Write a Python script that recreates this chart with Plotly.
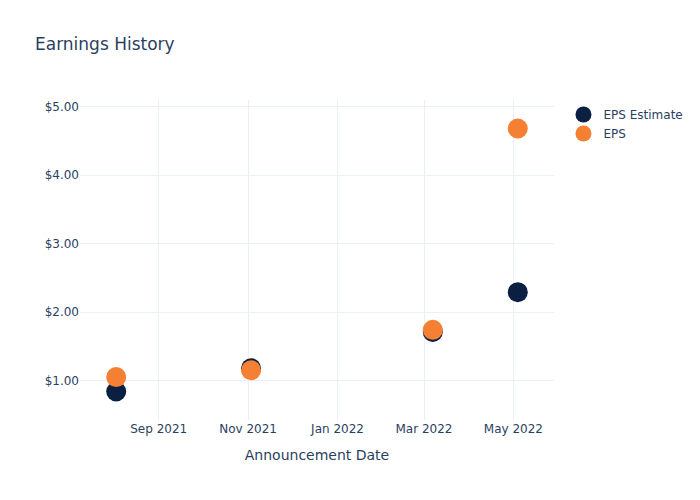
import plotly.graph_objects as go

dates = ["2021-08-03", "2021-11-03", "2022-03-07", "2022-05-04"]
eps_estimate = [0.84, 1.18, 1.71, 2.29]
eps_actual = [1.05, 1.15, 1.74, 4.68]

fig = go.Figure()
fig.add_trace(go.Scatter(x=dates, y=eps_estimate, mode="markers", name="EPS Estimate",
                         marker=dict(color="#0B1F42", size=20)))
fig.add_trace(go.Scatter(x=dates, y=eps_actual, mode="markers", name="EPS",
                         marker=dict(color="#F58033", size=20)))
fig.update_layout(
    template="plotly_white",
    width=700, height=500,
    font=dict(family="DejaVu Sans"),
    title=dict(text="Earnings History"),
    xaxis=dict(title=dict(text="Announcement Date"), dtick="M2", tickformat="%b %Y"),
    yaxis=dict(tickformat="$.2f"),
)
fig.write_html("out.html")
